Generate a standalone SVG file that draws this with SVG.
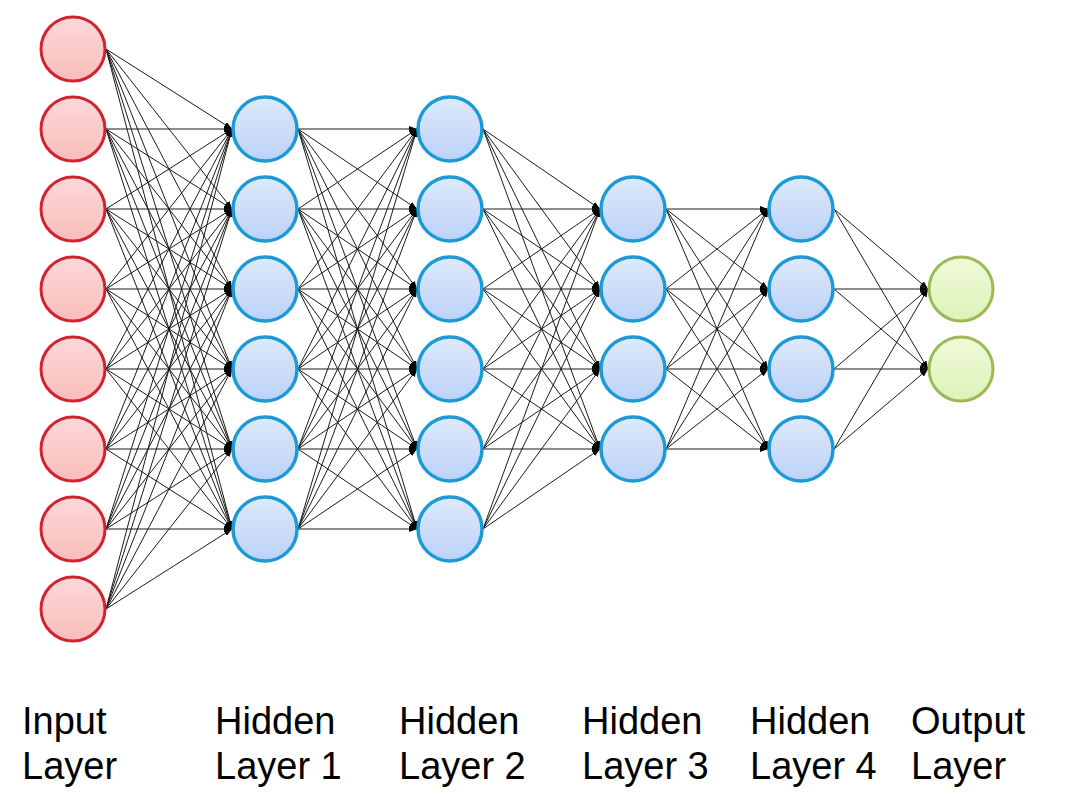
<svg xmlns="http://www.w3.org/2000/svg" width="1092" height="799" viewBox="0 0 1092 799">
<defs>
<linearGradient id="gRed" x1="0" y1="0" x2="0" y2="1"><stop offset="0" stop-color="#fdd9d9"/><stop offset="1" stop-color="#fbbcbc"/></linearGradient>
<linearGradient id="gBlue" x1="0" y1="0" x2="0" y2="1"><stop offset="0" stop-color="#dee9fb"/><stop offset="1" stop-color="#bcd2f8"/></linearGradient>
<linearGradient id="gGreen" x1="0" y1="0" x2="0" y2="1"><stop offset="0" stop-color="#f0fbd9"/><stop offset="1" stop-color="#dcf2b8"/></linearGradient>
<marker id="arr" viewBox="0 0 8 6" refX="8" refY="3" markerWidth="8" markerHeight="6" markerUnits="userSpaceOnUse" orient="auto"><path d="M0,0 L8,3 L0,6 z" fill="#000"/></marker>
</defs>
<style>
.c line{stroke:#1a1a1a;stroke-width:1;marker-end:url(#arr)}
.in{fill:url(#gRed);stroke:#d2232e;stroke-width:3}
.hid{fill:url(#gBlue);stroke:#1b9ad6;stroke-width:3.5}
.out{fill:url(#gGreen);stroke:#9bbb59;stroke-width:3}
text{font-family:"Liberation Sans",Arial,sans-serif;font-size:38px;fill:#000}
</style>
<rect width="1092" height="799" fill="#fff"/>
<g id="connectors" class="c">
<line x1="106" y1="49" x2="232" y2="129"/><line x1="106" y1="49" x2="232" y2="209"/><line x1="106" y1="49" x2="232" y2="289"/><line x1="106" y1="49" x2="232" y2="369"/><line x1="106" y1="49" x2="232" y2="449"/><line x1="106" y1="49" x2="232" y2="529"/>
<line x1="106" y1="129" x2="232" y2="129"/><line x1="106" y1="129" x2="232" y2="209"/><line x1="106" y1="129" x2="232" y2="289"/><line x1="106" y1="129" x2="232" y2="369"/><line x1="106" y1="129" x2="232" y2="449"/><line x1="106" y1="129" x2="232" y2="529"/>
<line x1="106" y1="209" x2="232" y2="129"/><line x1="106" y1="209" x2="232" y2="209"/><line x1="106" y1="209" x2="232" y2="289"/><line x1="106" y1="209" x2="232" y2="369"/><line x1="106" y1="209" x2="232" y2="449"/><line x1="106" y1="209" x2="232" y2="529"/>
<line x1="106" y1="289" x2="232" y2="129"/><line x1="106" y1="289" x2="232" y2="209"/><line x1="106" y1="289" x2="232" y2="289"/><line x1="106" y1="289" x2="232" y2="369"/><line x1="106" y1="289" x2="232" y2="449"/><line x1="106" y1="289" x2="232" y2="529"/>
<line x1="106" y1="369" x2="232" y2="129"/><line x1="106" y1="369" x2="232" y2="209"/><line x1="106" y1="369" x2="232" y2="289"/><line x1="106" y1="369" x2="232" y2="369"/><line x1="106" y1="369" x2="232" y2="449"/><line x1="106" y1="369" x2="232" y2="529"/>
<line x1="106" y1="449" x2="232" y2="129"/><line x1="106" y1="449" x2="232" y2="209"/><line x1="106" y1="449" x2="232" y2="289"/><line x1="106" y1="449" x2="232" y2="369"/><line x1="106" y1="449" x2="232" y2="449"/><line x1="106" y1="449" x2="232" y2="529"/>
<line x1="106" y1="529" x2="232" y2="129"/><line x1="106" y1="529" x2="232" y2="209"/><line x1="106" y1="529" x2="232" y2="289"/><line x1="106" y1="529" x2="232" y2="369"/><line x1="106" y1="529" x2="232" y2="449"/><line x1="106" y1="529" x2="232" y2="529"/>
<line x1="106" y1="609" x2="232" y2="129"/><line x1="106" y1="609" x2="232" y2="209"/><line x1="106" y1="609" x2="232" y2="289"/><line x1="106" y1="609" x2="232" y2="369"/><line x1="106" y1="609" x2="232" y2="449"/><line x1="106" y1="609" x2="232" y2="529"/>
<line x1="298" y1="129" x2="417" y2="129"/><line x1="298" y1="129" x2="417" y2="209"/><line x1="298" y1="129" x2="417" y2="289"/><line x1="298" y1="129" x2="417" y2="369"/><line x1="298" y1="129" x2="417" y2="449"/><line x1="298" y1="129" x2="417" y2="529"/>
<line x1="298" y1="209" x2="417" y2="129"/><line x1="298" y1="209" x2="417" y2="209"/><line x1="298" y1="209" x2="417" y2="289"/><line x1="298" y1="209" x2="417" y2="369"/><line x1="298" y1="209" x2="417" y2="449"/><line x1="298" y1="209" x2="417" y2="529"/>
<line x1="298" y1="289" x2="417" y2="129"/><line x1="298" y1="289" x2="417" y2="209"/><line x1="298" y1="289" x2="417" y2="289"/><line x1="298" y1="289" x2="417" y2="369"/><line x1="298" y1="289" x2="417" y2="449"/><line x1="298" y1="289" x2="417" y2="529"/>
<line x1="298" y1="369" x2="417" y2="129"/><line x1="298" y1="369" x2="417" y2="209"/><line x1="298" y1="369" x2="417" y2="289"/><line x1="298" y1="369" x2="417" y2="369"/><line x1="298" y1="369" x2="417" y2="449"/><line x1="298" y1="369" x2="417" y2="529"/>
<line x1="298" y1="449" x2="417" y2="129"/><line x1="298" y1="449" x2="417" y2="209"/><line x1="298" y1="449" x2="417" y2="289"/><line x1="298" y1="449" x2="417" y2="369"/><line x1="298" y1="449" x2="417" y2="449"/><line x1="298" y1="449" x2="417" y2="529"/>
<line x1="298" y1="529" x2="417" y2="129"/><line x1="298" y1="529" x2="417" y2="209"/><line x1="298" y1="529" x2="417" y2="289"/><line x1="298" y1="529" x2="417" y2="369"/><line x1="298" y1="529" x2="417" y2="449"/><line x1="298" y1="529" x2="417" y2="529"/>
<line x1="483" y1="129" x2="600" y2="209"/><line x1="483" y1="129" x2="600" y2="289"/><line x1="483" y1="129" x2="600" y2="369"/><line x1="483" y1="129" x2="600" y2="449"/>
<line x1="483" y1="209" x2="600" y2="209"/><line x1="483" y1="209" x2="600" y2="289"/><line x1="483" y1="209" x2="600" y2="369"/><line x1="483" y1="209" x2="600" y2="449"/>
<line x1="483" y1="289" x2="600" y2="209"/><line x1="483" y1="289" x2="600" y2="289"/><line x1="483" y1="289" x2="600" y2="369"/><line x1="483" y1="289" x2="600" y2="449"/>
<line x1="483" y1="369" x2="600" y2="209"/><line x1="483" y1="369" x2="600" y2="289"/><line x1="483" y1="369" x2="600" y2="369"/><line x1="483" y1="369" x2="600" y2="449"/>
<line x1="483" y1="449" x2="600" y2="209"/><line x1="483" y1="449" x2="600" y2="289"/><line x1="483" y1="449" x2="600" y2="369"/><line x1="483" y1="449" x2="600" y2="449"/>
<line x1="483" y1="529" x2="600" y2="209"/><line x1="483" y1="529" x2="600" y2="289"/><line x1="483" y1="529" x2="600" y2="369"/><line x1="483" y1="529" x2="600" y2="449"/>
<line x1="666" y1="209" x2="768" y2="209"/><line x1="666" y1="209" x2="768" y2="289"/><line x1="666" y1="209" x2="768" y2="369"/><line x1="666" y1="209" x2="768" y2="449"/>
<line x1="666" y1="289" x2="768" y2="209"/><line x1="666" y1="289" x2="768" y2="289"/><line x1="666" y1="289" x2="768" y2="369"/><line x1="666" y1="289" x2="768" y2="449"/>
<line x1="666" y1="369" x2="768" y2="209"/><line x1="666" y1="369" x2="768" y2="289"/><line x1="666" y1="369" x2="768" y2="369"/><line x1="666" y1="369" x2="768" y2="449"/>
<line x1="666" y1="449" x2="768" y2="209"/><line x1="666" y1="449" x2="768" y2="289"/><line x1="666" y1="449" x2="768" y2="369"/><line x1="666" y1="449" x2="768" y2="449"/>
<line x1="834" y1="209" x2="928" y2="289"/><line x1="834" y1="209" x2="928" y2="369"/>
<line x1="834" y1="289" x2="928" y2="289"/><line x1="834" y1="289" x2="928" y2="369"/>
<line x1="834" y1="369" x2="928" y2="289"/><line x1="834" y1="369" x2="928" y2="369"/>
<line x1="834" y1="449" x2="928" y2="289"/><line x1="834" y1="449" x2="928" y2="369"/>
</g>
<g id="input-layer">
<circle class="in" cx="73" cy="49" r="32"/><circle class="in" cx="73" cy="129" r="32"/><circle class="in" cx="73" cy="209" r="32"/><circle class="in" cx="73" cy="289" r="32"/><circle class="in" cx="73" cy="369" r="32"/><circle class="in" cx="73" cy="449" r="32"/><circle class="in" cx="73" cy="529" r="32"/><circle class="in" cx="73" cy="609" r="32"/>
</g>
<g id="hidden-layer-1">
<circle class="hid" cx="265" cy="129" r="32"/><circle class="hid" cx="265" cy="209" r="32"/><circle class="hid" cx="265" cy="289" r="32"/><circle class="hid" cx="265" cy="369" r="32"/><circle class="hid" cx="265" cy="449" r="32"/><circle class="hid" cx="265" cy="529" r="32"/>
</g>
<g id="hidden-layer-2">
<circle class="hid" cx="450" cy="129" r="32"/><circle class="hid" cx="450" cy="209" r="32"/><circle class="hid" cx="450" cy="289" r="32"/><circle class="hid" cx="450" cy="369" r="32"/><circle class="hid" cx="450" cy="449" r="32"/><circle class="hid" cx="450" cy="529" r="32"/>
</g>
<g id="hidden-layer-3">
<circle class="hid" cx="633" cy="209" r="32"/><circle class="hid" cx="633" cy="289" r="32"/><circle class="hid" cx="633" cy="369" r="32"/><circle class="hid" cx="633" cy="449" r="32"/>
</g>
<g id="hidden-layer-4">
<circle class="hid" cx="801" cy="209" r="32"/><circle class="hid" cx="801" cy="289" r="32"/><circle class="hid" cx="801" cy="369" r="32"/><circle class="hid" cx="801" cy="449" r="32"/>
</g>
<g id="output-layer">
<circle class="out" cx="961" cy="289" r="32"/><circle class="out" cx="961" cy="369" r="32"/>
</g>
<g id="labels">
<text x="22" y="734">Input</text><text x="22" y="779">Layer</text>
<text x="215" y="734">Hidden</text><text x="215" y="779">Layer 1</text>
<text x="399" y="734">Hidden</text><text x="399" y="779">Layer 2</text>
<text x="582" y="734">Hidden</text><text x="582" y="779">Layer 3</text>
<text x="750" y="734">Hidden</text><text x="750" y="779">Layer 4</text>
<text x="911" y="734">Output</text><text x="911" y="779">Layer</text>
</g>
</svg>
